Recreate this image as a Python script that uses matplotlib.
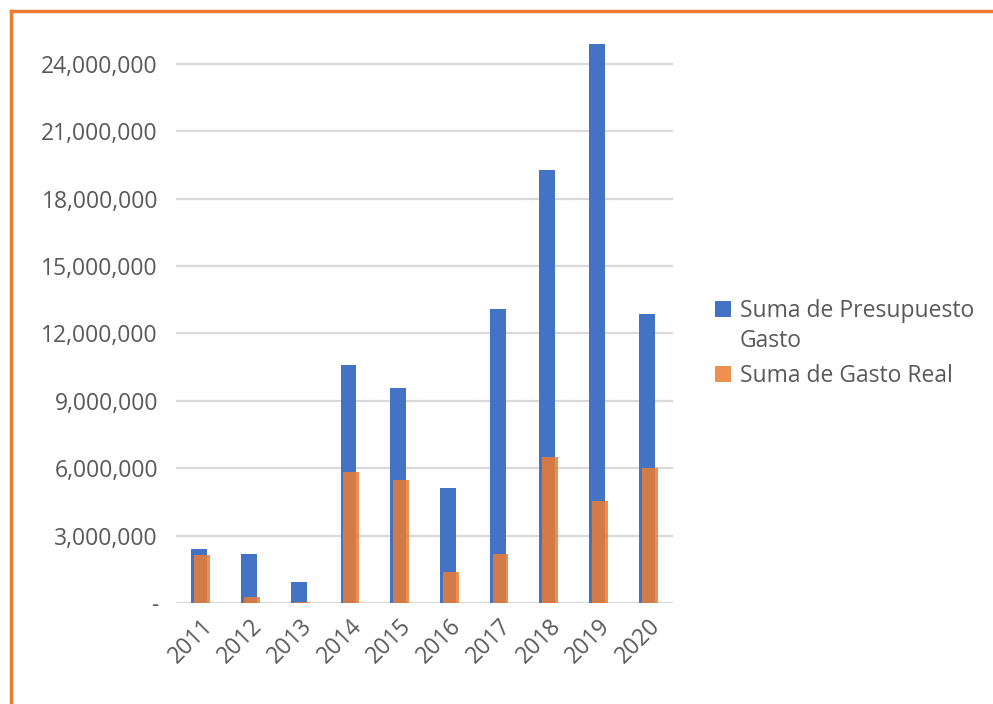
import matplotlib
matplotlib.use("Agg")
import matplotlib.pyplot as plt
from matplotlib.patches import Rectangle
from matplotlib.lines import Line2D
from matplotlib.ticker import FuncFormatter, MultipleLocator
import numpy as np

years = ["2011", "2012", "2013", "2014", "2015", "2016", "2017", "2018", "2019", "2020"]
presupuesto = [2390000, 2190000, 950000, 10590000, 9580000, 5130000, 13070000, 19290000, 24870000, 12860000]
gasto_real = [2140000, 280000, 60000, 5820000, 5470000, 1370000, 2180000, 6510000, 4550000, 6000000]
series_names = ["Suma de Presupuesto\nGasto", "Suma de Gasto Real"]

BLUE = "#4472C4"
ORANGE = "#ED7D31"
GRID = "#D9D9D9"
TEXT = "#595959"
FONT = "Open Sans"
W, H = 993, 704

plt.rcParams["font.family"] = [FONT, "DejaVu Sans"]

fig = plt.figure(figsize=(W / 100, H / 100), dpi=100)
ax = fig.add_axes([176 / W, 1 - 603 / H, (673 - 176) / W, (603 - 37) / H])

x = np.arange(len(years))
w = 0.32
ax.bar(x - 0.03, presupuesto, width=w, color=BLUE, zorder=2)
ax.bar(x + 0.03, gasto_real, width=w, color=ORANGE, alpha=0.85, zorder=3)

ax.set_xlim(-0.5, len(years) - 0.5)
ax.set_ylim(0, 25200000)
ax.yaxis.set_major_locator(MultipleLocator(3000000))
ax.yaxis.set_major_formatter(FuncFormatter(lambda v, p: "-" if abs(v) < 1 else f"{v:,.0f}"))
ax.grid(axis="y", color=GRID, linewidth=1.6, zorder=0)
ax.set_axisbelow(True)
for s in ax.spines.values():
    s.set_visible(False)
ax.tick_params(axis="both", length=0, colors=TEXT, labelsize=16.5)
ax.tick_params(axis="y", pad=13)
ax.set_xticks(x)
ax.set_xticklabels(years, rotation=45, ha="right", rotation_mode="anchor")
ax.tick_params(axis="x", pad=8)

# legend drawn manually (square aligned with first text line)
leg_colors = [(BLUE, 1.0), (ORANGE, 0.85)]
leg_baselines = [317, 382]
line_step = 30
for (col, a), name, base in zip(leg_colors, series_names, leg_baselines):
    fig.add_artist(Rectangle((715 / W, 1 - base / H), 16 / W, 16 / H, facecolor=col, alpha=a,
                             edgecolor="none", transform=fig.transFigure))
    for i, line in enumerate(name.split("\n")):
        fig.text(740 / W, 1 - (base + i * line_step) / H, line, color=TEXT, fontsize=16.5,
                 ha="left", va="baseline")

fig.add_artist(Line2D([11 / W, 1], [1 - 10.5 / H, 1 - 10.5 / H], color=ORANGE, linewidth=2.5,
                      transform=fig.transFigure))
fig.add_artist(Line2D([11 / W, 11 / W], [1 - 10.5 / H, 0], color=ORANGE, linewidth=2.5,
                      transform=fig.transFigure))

fig.savefig("out.png", dpi=100)
